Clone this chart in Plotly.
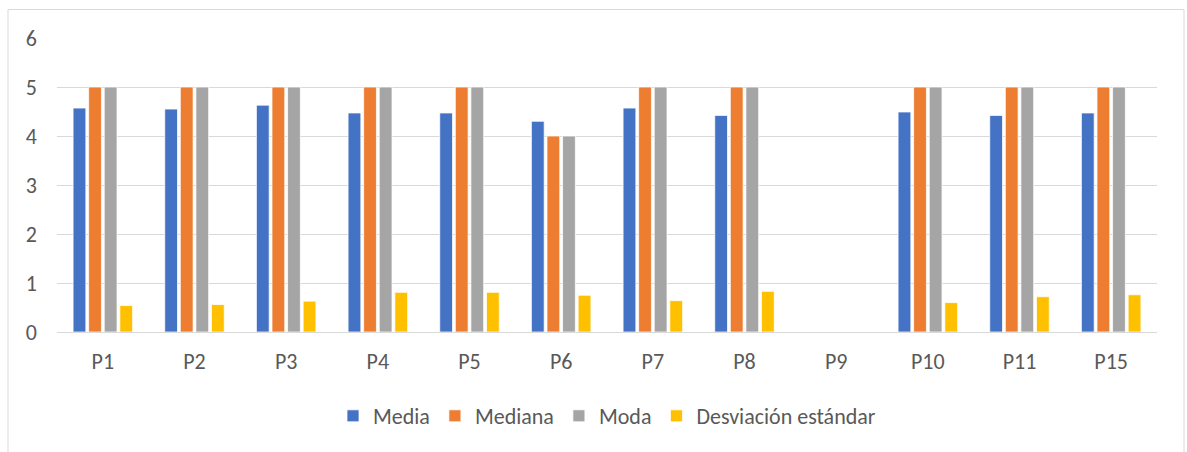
import plotly.graph_objects as go

categories = ["P1", "P2", "P3", "P4", "P5", "P6", "P7", "P8", "P9", "P10", "P11", "P15"]
media = [4.57, 4.55, 4.63, 4.47, 4.47, 4.30, 4.57, 4.42, None, 4.49, 4.42, 4.47]
mediana = [5, 5, 5, 5, 5, 4, 5, 5, None, 5, 5, 5]
moda = [5, 5, 5, 5, 5, 4, 5, 5, None, 5, 5, 5]
desviacion = [0.54, 0.56, 0.63, 0.81, 0.81, 0.75, 0.64, 0.83, None, 0.60, 0.72, 0.76]

series = [
    ("Media", media, "#4472C4"),
    ("Mediana", mediana, "#ED7D31"),
    ("Moda", moda, "#A5A5A5"),
    ("Desviación estándar", desviacion, "#FFC000"),
]

FONT = "Carlito, Calibri, Lato, sans-serif"
TEXT = "#595959"
GRID = "#D9D9D9"
FS = 22

fig = go.Figure()
for name, values, color in series:
    fig.add_trace(go.Bar(
        name=name, x=categories, y=values,
        marker=dict(color=color, line=dict(color="white", width=0.75)),
    ))

# plot area in pixels: x 57..1157, y 38..332
L, R, T, B = 57, 1157, 38, 332
W, H = 1187, 452
pw, ph = R - L, B - T


def px_x(v):
    return (v - L) / pw


def px_y(v):
    return (B - v) / ph


fig.add_shape(
    type="rect", xref="paper", yref="paper",
    x0=px_x(8), x1=px_x(1184), y0=px_y(470), y1=px_y(9.5),
    line=dict(color=GRID, width=1), fillcolor="rgba(0,0,0,0)", layer="below",
)

fig.update_layout(
    width=W, height=H,
    margin=dict(l=L, r=W - R, t=T, b=H - B, pad=0),
    paper_bgcolor="white", plot_bgcolor="white",
    barmode="group", bargap=0.32, bargroupgap=0.18,
    font=dict(family=FONT, size=FS, color=TEXT),
    showlegend=True,
    legend=dict(
        orientation="h", x=0.5, xanchor="center", y=px_y(416), yanchor="middle",
        font=dict(family=FONT, size=FS, color=TEXT), itemwidth=30,
        traceorder="normal",
    ),
    xaxis=dict(
        showgrid=False, showline=False, zeroline=False, ticks="",
        ticklabelstandoff=14, tickfont=dict(size=FS, color=TEXT),
    ),
    yaxis=dict(
        range=[0, 6], dtick=1, showgrid=True, gridcolor=GRID, gridwidth=1.3,
        zeroline=True, zerolinecolor=GRID, zerolinewidth=1.3, showline=False,
        ticks="", ticklabelstandoff=19, tickfont=dict(size=FS, color=TEXT),
    ),
)

fig.write_html("out.html")
